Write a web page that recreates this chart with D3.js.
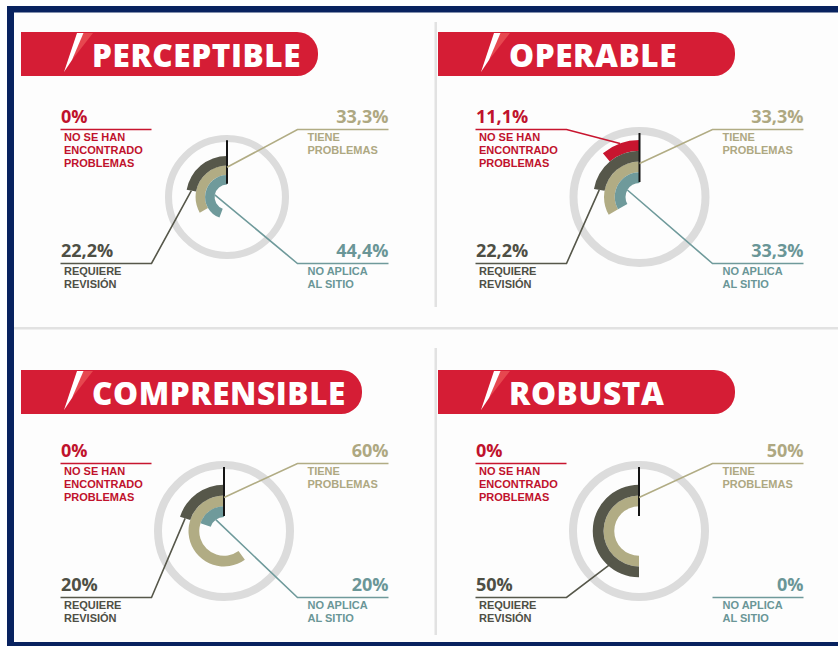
<!DOCTYPE html>
<html><head><meta charset="utf-8">
<script src="https://cdn.jsdelivr.net/npm/d3@7"></script>
<style>body{margin:0;background:#fff}svg{display:block}</style>
</head><body><svg id="c" width="838" height="646"></svg>
<script>
// ---- data ----
const panels = ["PERCEPTIBLE", "OPERABLE", "COMPRENSIBLE", "ROBUSTA"];
const noEncontrado     = [0, 11.1, 0, 0];
const tieneProblemas   = [33.3, 33.3, 60, 50];
const requiereRevision = [22.2, 22.2, 20, 50];
const noAplica         = [44.4, 33.3, 20, 0];
const seriesKeys = ["noEncontrado", "tieneProblemas", "requiereRevision", "noAplica"];
const seriesLabels = [["NO SE HAN", "ENCONTRADO", "PROBLEMAS"], ["TIENE", "PROBLEMAS"], ["REQUIERE", "REVISIÓN"], ["NO APLICA", "AL SITIO"]];
const seriesValues = {noEncontrado, tieneProblemas, requiereRevision, noAplica};

// ---- style / layout ----
const colors = {noEncontrado: "#c8152f", tieneProblemas: "#b1ac84", requiereRevision: "#56574a", noAplica: "#6f9a9b"};
const textColors = {noEncontrado: "#c0122c", tieneProblemas: "#aea882", requiereRevision: "#4e4f45", noAplica: "#6a9697"};
const colX = [224.5, 639.5];       // label block centre per column
const rowY = [197, 531];           // donut centre per row
const bannerY = [32, 370];
const bannerX = [21, 438];
const donutCx = [227, 639.5, 224, 639];
const donutK  = [0.886, 1, 1, 1];  // size factor of each donut

const svg = d3.select("#c");
const FONT = "'Open Sans', 'Noto Sans', sans-serif";
const FONT_SMALL = "'Liberation Sans', Arial, sans-serif";

// background / frame
svg.append("rect").attr("width", 838).attr("height", 646).attr("fill", "#fff");
svg.append("rect").attr("x", 14).attr("y", 12).attr("width", 824).attr("height", 630).attr("fill", "#fdfdfd");
// dividers
svg.append("rect").attr("x", 14).attr("y", 327).attr("width", 824).attr("height", 2.5).attr("fill", "#e2e2e2");
svg.append("rect").attr("x", 434.5).attr("y", 22).attr("width", 2.5).attr("height", 285).attr("fill", "#e2e2e2");
svg.append("rect").attr("x", 434.5).attr("y", 348).attr("width", 2.5).attr("height", 287).attr("fill", "#e2e2e2");
// navy frame
svg.append("rect").attr("x", 7).attr("y", 6).attr("width", 831).attr("height", 6.5).attr("fill", "#08225f");
svg.append("rect").attr("x", 7).attr("y", 6).attr("width", 7).attr("height", 640).attr("fill", "#08225f");
svg.append("rect").attr("x", 7).attr("y", 642).attr("width", 831).attr("height", 4).attr("fill", "#08225f");

const fmt = v => (Number.isInteger(v) ? String(v) : d3.format(".1f")(v).replace(".", ",")) + "%";
const angle = d3.scaleLinear().domain([0, 100]).range([0, -2 * Math.PI]); // counter-clockwise from 12 o'clock
const radial = d3.scaleBand().domain(["noAplica", "tieneProblemas", "requiereRevision", "noEncontrado"]).range([14, 57]);

panels.forEach((name, i) => {
  const col = i % 2, row = Math.floor(i / 2);
  const g = svg.append("g");
  // ---- banner ----
  const bx = bannerX[col], by = bannerY[row], bh = 44;
  const title = g.append("text").attr("x", bx + 71).attr("y", by + 35)
    .attr("font-family", FONT).attr("font-weight", 800).attr("font-size", 31.5)
    .attr("letter-spacing", 0.6)
    .attr("fill", "#fff").text(name);
  const tw = title.node().getComputedTextLength();
  const bw = Math.max(297, 72 + tw + 15);
  const r = 21;
  g.insert("path", "text").attr("d",
    `M${bx},${by}H${bx + bw - r}A${r},${r} 0 0 1 ${bx + bw},${by + r}V${by + bh - r}A${r},${r} 0 0 1 ${bx + bw - r},${by + bh}H${bx}Z`)
    .attr("fill", "#d51d35");
  g.insert("path", "text").attr("d", `M${bx + 62},${by + 1}L${bx + 72},${by + 1}L${bx + 51},${by + 28}Z`).attr("fill", "#e6474f");
  g.insert("path", "text").attr("d", `M${bx + 56},${by + 1}L${bx + 62.5},${by + 1}L${bx + 51},${by + 28}L${bx + 43},${by + 40}Z`).attr("fill", "#fff");

  // ---- donut ----
  const cx = donutCx[i], cy = rowY[row], k = donutK[i];
  const dg = g.append("g").attr("transform", `translate(${cx},${cy})`);
  dg.append("circle").attr("r", 66 * k).attr("fill", "none").attr("stroke", "#dcdcdc").attr("stroke-width", 8 * k);
  const arc = d3.arc();
  const geo = {};
  seriesKeys.forEach(key => {
    const v = seriesValues[key][i];
    const r0 = radial(key) * k, r1 = (radial(key) + radial.bandwidth()) * k;
    geo[key] = {v, r0, r1, a: angle(v)};
    if (v > 0) {
      dg.append("path").attr("d", arc({innerRadius: r0, outerRadius: r1, startAngle: angle(v), endAngle: 0}))
        .attr("fill", colors[key]);
    }
  });
  dg.append("line").attr("x1", 0).attr("x2", 0).attr("y1", -15 * k).attr("y2", -64 * k)
    .attr("stroke", "#151515").attr("stroke-width", 2);

  // ---- labels ----
  const lx = colX[col];
  const pol = (a, rr) => [cx + rr * Math.sin(a), cy - rr * Math.cos(a)];
  const blocks = [
    {key: "noEncontrado", side: -1, top: true},
    {key: "tieneProblemas", side: 1, top: true},
    {key: "requiereRevision", side: -1, top: false},
    {key: "noAplica", side: 1, top: false}
  ];
  blocks.forEach(b => {
    const key = b.key, gm = geo[key];
    const lineY = b.top ? cy - 67.5 : cy + 66.5;
    const xa = b.side < 0 ? lx - 164 : lx + 73;
    const xb = b.side < 0 ? lx - 73 : lx + 164;
    g.append("text").attr("x", b.side < 0 ? xa + 0.5 : xb).attr("y", lineY - 6.5)
      .attr("text-anchor", b.side < 0 ? "start" : "end")
      .attr("font-family", FONT).attr("font-weight", 700).attr("font-size", 18)
      .attr("fill", textColors[key]).text(fmt(gm.v));
    const lbl = seriesLabels[seriesKeys.indexOf(key)];
    const lx0 = b.side < 0 ? xa + 3.5 : xa + 10;
    const t = g.append("text").attr("x", lx0).attr("y", lineY + 11.5)
      .attr("font-family", FONT_SMALL).attr("font-weight", 700).attr("font-size", 11)
      .attr("fill", textColors[key]);
    lbl.forEach((s, n) => t.append("tspan").attr("x", lx0).attr("dy", n ? 13 : 0).text(s));
    // leader
    let pts = [[xa, lineY], [xb, lineY]];
    if (gm.v > 0) {
      let tgt;
      if (key === "noEncontrado") tgt = pol(gm.a / 2, gm.r1);
      else if (key === "tieneProblemas") tgt = pol(0, gm.r1 - 2 * k);
      else if (key === "requiereRevision") tgt = pol(Math.max(gm.a, -140 * Math.PI / 180), (gm.r0 + gm.r1) / 2);
      else tgt = pol(gm.a / 2, gm.r0);
      pts = b.side < 0 ? [[xa, lineY], [xb, lineY], tgt] : [tgt, [xa, lineY], [xb, lineY]];
    }
    g.append("path").attr("d", d3.line()(pts)).attr("fill", "none")
      .attr("stroke", colors[key]).attr("stroke-width", 1.6);
  });
});
</script></body></html>
